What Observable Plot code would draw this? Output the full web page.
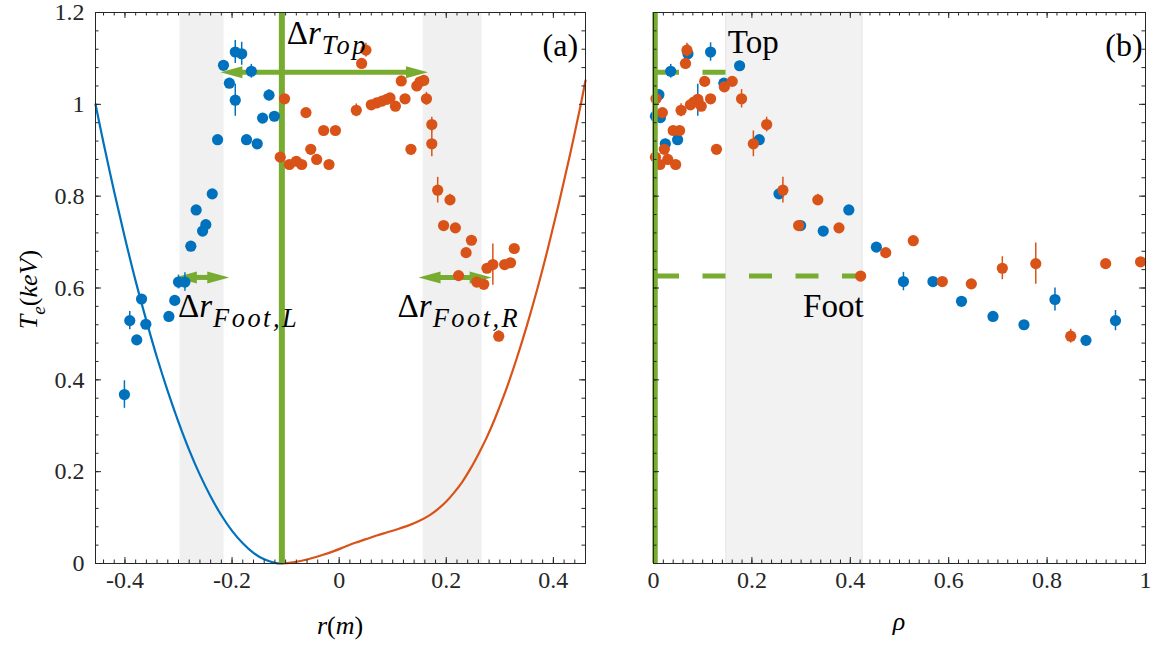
<!DOCTYPE html>
<html><head><meta charset="utf-8">
<script src="https://cdn.jsdelivr.net/npm/d3@7"></script>
<script src="https://cdn.jsdelivr.net/npm/@observablehq/plot@0.6"></script>
<style>
body{margin:0;background:#fff;}
#wrap{position:relative;width:1153px;height:647px;overflow:hidden;background:#fff;}
#wrap svg{position:absolute;top:0;}
</style></head><body><div id="wrap"></div>
<script>
// ---------- data ----------
// panel (a): T_e vs r
const blueR = [-0.401,-0.391,-0.378,-0.369,-0.361,-0.318,-0.307,-0.300,-0.288,-0.277,-0.267,-0.255,-0.249,-0.237,-0.227,-0.216,-0.205,-0.194,-0.182,-0.194,-0.173,-0.164,-0.153,-0.143,-0.131,-0.121];
const blueT = [0.368,0.529,0.487,0.576,0.521,0.538,0.573,0.613,0.613,0.691,0.770,0.724,0.738,0.805,0.923,1.085,1.046,1.114,1.110,1.009,0.923,1.072,0.914,0.970,1.020,0.974];
const blueE = [0.03,0.02,0.008,0.01,0.008,0.008,0.01,0.015,0.02,0.008,0.008,0.008,0.008,0.008,0.008,0.01,0.01,0.025,0.025,0.035,0.01,0.015,0.008,0.008,0.012,0.008];

const orangeR = [-0.110,-0.102,-0.093,-0.080,-0.070,-0.062,-0.053,-0.042,-0.029,-0.019,-0.007,0.032,0.042,0.050,0.060,0.070,0.080,0.089,0.095,0.105,0.116,0.123,0.134,0.145,0.151,0.158,0.163,0.173,0.173,0.184,0.195,0.207,0.217,0.223,0.237,0.247,0.257,0.270,0.276,0.287,0.298,0.309,0.320,0.327];
const orangeT = [0.885,1.012,0.869,0.876,0.869,0.982,0.902,0.880,0.943,0.869,0.943,0.987,1.089,1.118,0.999,1.003,1.007,1.011,1.014,0.996,1.051,1.012,0.902,1.040,1.049,1.052,1.012,0.956,0.914,0.813,0.736,0.792,0.731,0.627,0.677,0.704,0.613,0.608,0.643,0.651,0.495,0.651,0.655,0.686];
const orangeE = [0.008,0.008,0.008,0.008,0.008,0.008,0.008,0.008,0.008,0.008,0.008,0.014,0.01,0.015,0.008,0.008,0.008,0.008,0.008,0.008,0.008,0.008,0.008,0.008,0.008,0.008,0.014,0.016,0.028,0.028,0.008,0.012,0.008,0.008,0.008,0.008,0.008,0.008,0.008,0.045,0.012,0.008,0.008,0.008];

const blueCurveR = [-0.455,-0.44,-0.42,-0.40,-0.38,-0.36,-0.34,-0.32,-0.30,-0.28,-0.26,-0.24,-0.22,-0.20,-0.18,-0.16,-0.14,-0.12,-0.107];
const blueCurveT = [1.000,0.916,0.809,0.709,0.615,0.529,0.448,0.375,0.308,0.247,0.193,0.146,0.105,0.071,0.044,0.023,0.009,0.0014,0];
const orangeCurveR = [-0.107,-0.09,-0.07,-0.05,-0.03,-0.01,0.01,0.03,0.05,0.07,0.09,0.11,0.13,0.15,0.17,0.185,0.20,0.215,0.23,0.245,0.26,0.275,0.29,0.31,0.33,0.35,0.37,0.39,0.41,0.43,0.45,0.46];
const orangeCurveT = [0,0.002,0.006,0.012,0.019,0.027,0.036,0.045,0.053,0.061,0.068,0.075,0.083,0.093,0.106,0.119,0.135,0.155,0.178,0.206,0.238,0.273,0.313,0.373,0.441,0.516,0.598,0.687,0.783,0.885,0.993,1.052];

const bandsA = [[-0.297,-0.215],[0.157,0.267]];
const pedestalR = -0.107;
const arrowsA = [ // [x1, x2, y]
  [-0.218, 0.162, 1.070],
  [-0.303, -0.209, 0.623],
  [0.152, 0.281, 0.623]
];

// panel (b): T_e vs rho
const blueRho  = [0.004,0.011,0.014,0.024,0.035,0.049,0.070,0.090,0.116,0.143,0.175,0.215,0.255,0.299,0.345,0.397,0.453,0.508,0.568,0.626,0.690,0.753,0.816,0.879,0.939];
const blueRhoT = [0.974,1.021,0.971,0.914,1.072,0.923,1.110,1.009,1.114,1.046,1.084,0.923,0.805,0.736,0.724,0.770,0.689,0.614,0.614,0.571,0.538,0.520,0.575,0.486,0.529];
const blueRhoE = [0.008,0.01,0.008,0.01,0.015,0.01,0.02,0.035,0.02,0.01,0.01,0.008,0.008,0.008,0.008,0.008,0.008,0.02,0.008,0.008,0.008,0.008,0.025,0.008,0.022];

const orangeRho  = [0.004,0.005,0.013,0.018,0.022,0.029,0.040,0.045,0.053,0.056,0.065,0.068,0.075,0.082,0.090,0.097,0.104,0.116,0.128,0.144,0.160,0.179,0.203,0.230,0.263,0.295,0.334,0.377,0.421,0.472,0.528,0.587,0.646,0.709,0.777,0.848,0.919,0.990];
const orangeRhoT = [0.885,1.012,0.869,0.982,0.902,0.880,0.943,0.869,0.943,0.987,1.089,1.118,0.999,1.005,1.011,0.996,1.050,1.012,0.902,1.038,1.050,1.012,0.914,0.956,0.813,0.736,0.792,0.731,0.626,0.677,0.703,0.614,0.609,0.643,0.653,0.495,0.653,0.657];
const orangeRhoE = [0.008,0.008,0.008,0.008,0.008,0.008,0.008,0.008,0.008,0.014,0.01,0.015,0.008,0.008,0.008,0.008,0.008,0.008,0.008,0.008,0.008,0.02,0.028,0.016,0.028,0.01,0.012,0.008,0.008,0.008,0.008,0.008,0.008,0.025,0.045,0.015,0.008,0.008];

const bandB = [0.148, 0.425];
const topLevel = 1.070, footLevel = 0.626;
const topEnd = 0.148, footEnd = 0.421;

// tick labels
const xTicksA = [-0.4,-0.2,0,0.2,0.4];
const xTicksB = [0,0.2,0.4,0.6,0.8,1];
const yTicks = [0,0.2,0.4,0.6,0.8,1,1.2];

// ---------- style ----------
const FONT = "Liberation Serif";
const INK = "#262626";
const BLUE = "#0072BD", ORANGE = "#D95319", GREEN = "#77AC30", BAND = "#f0f0f0";
const H = 647, MT = 12, MB = 84, PH = H - MT - MB;
const yDom = [0, 1.2];

const tbl = (xs, ys, es) => xs.map((x, i) => ({x, y: ys[i], e: es ? (es[i] ?? 0.008) : 0}));

function boxTicks(xd, pw, xMaj, xMin) {
  const lx = v => v * (xd[1] - xd[0]) / pw, ly = v => v * (yDom[1] - yDom[0]) / PH;
  const s = {stroke: INK, strokeWidth: 1};
  const yMaj = yTicks, yMin = d3.range(0, 1.2001, 0.04);
  const out = [];
  for (const [vals, len] of [[xMin, 3.5], [xMaj, 6]]) {
    out.push(Plot.ruleX(vals, {x: d => d, y1: yDom[0], y2: yDom[0] + ly(len), ...s}));
    out.push(Plot.ruleX(vals, {x: d => d, y1: yDom[1] - ly(len), y2: yDom[1], ...s}));
  }
  for (const [vals, len] of [[yMin, 3.5], [yMaj, 6]]) {
    out.push(Plot.ruleY(vals, {y: d => d, x1: xd[0], x2: xd[0] + lx(len), ...s}));
    out.push(Plot.ruleY(vals, {y: d => d, x1: xd[1] - lx(len), x2: xd[1], ...s}));
  }
  return out;
}

const headR = {draw(c){ c.moveTo(2,0); c.lineTo(-20,-6); c.lineTo(-20,6); c.closePath(); }};
const headL = {draw(c){ c.moveTo(-2,0); c.lineTo(20,-6); c.lineTo(20,6); c.closePath(); }};

function dataMarks(pts, color) {
  return [
    Plot.ruleX(pts, {x: "x", y1: d => d.y - d.e, y2: d => d.y + d.e, stroke: color, strokeWidth: 1.5}),
    Plot.dot(pts, {x: "x", y: "y", r: 5.6, fill: color, stroke: "none"})
  ];
}
const axisText = {fill: INK, fontSize: 24, fontFamily: FONT, label: null, tickSize: 0, tickFormat: d => String(d)};

// ---------- panel (a) ----------
const WA = 600, MLA = 95, MRA = 15, PWA = WA - MLA - MRA;
const xDomA = [-0.455, 0.46];
const arrowData = arrowsA.map(([x1, x2, y]) => ({x1, x2, y}));

const svgA = Plot.plot({
  width: WA, height: H,
  marginLeft: MLA, marginRight: MRA, marginTop: MT, marginBottom: MB,
  style: {fontFamily: FONT, fontSize: "24px", color: INK, background: "transparent", overflow: "visible"},
  x: {domain: xDomA},
  y: {domain: yDom},
  marks: [
    Plot.rectX(bandsA, {x1: d => d[0], x2: d => d[1], y1: yDom[0], y2: yDom[1], fill: BAND}),
    Plot.line(tbl(blueCurveR, blueCurveT), {x: "x", y: "y", stroke: BLUE, strokeWidth: 2.2, curve: "catmull-rom"}),
    Plot.line(tbl(orangeCurveR, orangeCurveT), {x: "x", y: "y", stroke: ORANGE, strokeWidth: 2.2, curve: "catmull-rom"}),
    Plot.ruleX([pedestalR], {x: d => d, y1: yDom[0], y2: yDom[1], stroke: GREEN, strokeWidth: 6}),
    Plot.ruleY(arrowData, {x1: "x1", x2: "x2", y: "y", stroke: GREEN, strokeWidth: 5, insetLeft: 12, insetRight: 12}),
    Plot.dot(arrowData, {x: "x2", y: "y", symbol: headR, r: 6, fill: GREEN, stroke: "none"}),
    Plot.dot(arrowData, {x: "x1", y: "y", symbol: headL, r: 6, fill: GREEN, stroke: "none"}),
    ...dataMarks(tbl(blueR, blueT, blueE), BLUE),
    ...dataMarks(tbl(orangeR, orangeT, orangeE), ORANGE),
    ...boxTicks(xDomA, PWA, xTicksA, d3.range(-0.44, 0.4601, 0.02)),
    Plot.frame({stroke: INK, strokeWidth: 1}),
    Plot.axisX({ticks: xTicksA, tickPadding: 7, ...axisText}),
    Plot.axisY({ticks: yTicks, tickPadding: 11, ...axisText})
  ]
});
svgA.style.left = "0px";

// ---------- panel (b) ----------
const WB = 553, MLB = 53, MRB = 8, PWB = WB - MLB - MRB;
const xDomB = [0, 1];
const svgB = Plot.plot({
  width: WB, height: H,
  marginLeft: MLB, marginRight: MRB, marginTop: MT, marginBottom: MB,
  style: {fontFamily: FONT, fontSize: "24px", color: INK, background: "transparent", overflow: "visible"},
  x: {domain: xDomB},
  y: {domain: yDom, axis: null},
  marks: [
    Plot.rectX([bandB], {x1: d => d[0], x2: d => d[1], y1: yDom[0], y2: yDom[1], fill: "#f2f2f2", stroke: "#e4e4e4", strokeWidth: 1}),
    Plot.ruleY([topLevel], {y: d => d, x1: 0, x2: topEnd, stroke: GREEN, strokeWidth: 5, strokeDasharray: "23,23.5", strokeDashoffset: 43.5}),
    Plot.ruleY([footLevel], {y: d => d, x1: 0, x2: footEnd, stroke: GREEN, strokeWidth: 5, strokeDasharray: "23,23.5", strokeDashoffset: 43.5}),
    ...dataMarks(tbl(blueRho, blueRhoT, blueRhoE), BLUE),
    ...dataMarks(tbl(orangeRho, orangeRhoT, orangeRhoE), ORANGE),
    Plot.ruleX([0], {x: d => d, y1: yDom[0], y2: yDom[1], stroke: GREEN, strokeWidth: 5.5, dx: 1.5}),
    ...boxTicks(xDomB, PWB, xTicksB, d3.range(0, 1.0001, 0.02)),
    Plot.frame({stroke: INK, strokeWidth: 1}),
    Plot.axisX({ticks: xTicksB, tickPadding: 7, ...axisText})
  ]
});
svgB.style.left = WA + "px";

// ---------- rich-text annotations ----------
function addText(svg, x, y, parts, size, anchor = "start", transform = null) {
  const t = d3.select(svg).append("text")
    .attr("x", x).attr("y", y).attr("font-size", size)
    .attr("text-anchor", anchor).attr("fill", "#000").style("font-family", FONT);
  if (transform) t.attr("transform", transform);
  let shift = 0;
  for (const p of parts) {
    const target = p.sub ? size * 0.3 : 0;
    const ts = t.append("tspan").text(p.t).attr("dy", target - shift);
    shift = target;
    if (p.it) ts.style("font-style", "italic");
    if (p.sub) ts.attr("font-size", size * (p.scale || 0.74));
    if (p.ls) ts.attr("letter-spacing", p.ls);
  }
  return t;
}
const xA = v => svgA.scale("x").apply(v), yA = v => svgA.scale("y").apply(v);
const xB = v => svgB.scale("x").apply(v), yB = v => svgB.scale("y").apply(v);

addText(svgA, xA(-0.097), yA(1.131), [{t: "Δ"}, {t: "r", it: true, ls: 1}, {t: "Top", it: true, sub: true, scale: 0.8, ls: 2.5}], 33);
addText(svgA, xA(-0.300), yA(0.536), [{t: "Δ"}, {t: "r", it: true, ls: 1}, {t: "Foot,L", it: true, sub: true, scale: 0.8, ls: 2.5}], 33);
addText(svgA, xA(0.110), yA(0.536), [{t: "Δ"}, {t: "r", it: true, ls: 1}, {t: "Foot,R", it: true, sub: true, scale: 0.8, ls: 2.5}], 33);
addText(svgA, xA(0.447), yA(1.104), [{t: "(a)"}], 32, "end");
addText(svgA, MLA + PWA / 2, 634, [{t: "r", it: true}, {t: "("}, {t: "m", it: true}, {t: ")"}], 26, "middle");
addText(svgA, 0, 0, [{t: "T", it: true}, {t: "e", it: true, sub: true}, {t: "("}, {t: "keV", it: true}, {t: ")"}], 26, "middle",
  `translate(37,${MT + PH / 2 + 2}) rotate(-90)`);

addText(svgB, xB(0.152), yB(1.11), [{t: "Top"}], 33);
addText(svgB, xB(0.305), yB(0.536), [{t: "Foot"}], 33);
addText(svgB, xB(0.995), yB(1.104), [{t: "(b)"}], 32, "end");
addText(svgB, MLB + PWB / 2, 630, [{t: "ρ", it: true}], 26, "middle");

// make sure every axis label uses the serif face
for (const s of [svgA, svgB]) d3.select(s).selectAll("text").style("font-family", FONT);

document.getElementById("wrap").append(svgA, svgB);
</script>
</body></html>
